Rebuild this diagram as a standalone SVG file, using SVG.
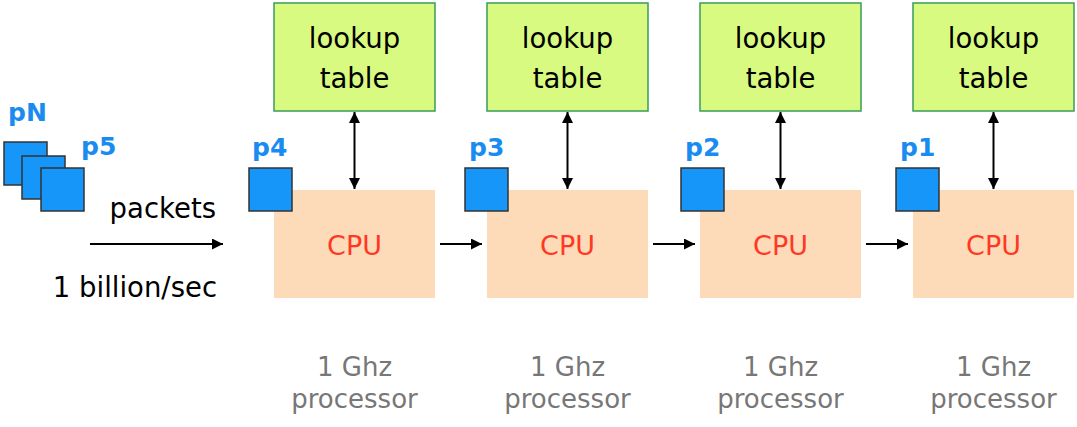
<svg xmlns="http://www.w3.org/2000/svg" width="1077" height="427" viewBox="0 0 1077 427">
<defs>
<marker id="ah" viewBox="0 0 10 10" refX="10" refY="5" markerWidth="6" markerHeight="5.5" markerUnits="strokeWidth" orient="auto-start-reverse">
<path d="M0,0 L10,5 L0,10 z" fill="#000"/>
</marker>
</defs>
<style>
text{font-family:"DejaVu Sans","Liberation Sans",sans-serif}
.lt{fill:#D8FA80;stroke:#3A9A5A;stroke-width:1.5}
.cpu{fill:#FDDBB9}
.pk{fill:#1796FA;stroke:#333;stroke-width:1.5}
.pl{fill:#1A8CF0;font-weight:bold;font-size:25px}
.blk{fill:#000;font-size:27.5px;text-anchor:middle}
.ct{fill:#FF3824;font-size:27px;text-anchor:middle}
.gt{fill:#777;font-size:26px;text-anchor:middle}
.cn{stroke:#000;stroke-width:2;fill:none}
</style>
<rect width="1077" height="427" fill="#fff"/>

<g id="connectors">
<line class="cn" x1="90" y1="244" x2="223" y2="244" marker-end="url(#ah)"/>
<line class="cn" x1="440" y1="244" x2="482" y2="244" marker-end="url(#ah)"/>
<line class="cn" x1="653" y1="244" x2="695" y2="244" marker-end="url(#ah)"/>
<line class="cn" x1="866" y1="244" x2="908" y2="244" marker-end="url(#ah)"/>
<line class="cn" x1="354.5" y1="112" x2="354.5" y2="189" marker-start="url(#ah)" marker-end="url(#ah)"/>
<line class="cn" x1="567.5" y1="112" x2="567.5" y2="189" marker-start="url(#ah)" marker-end="url(#ah)"/>
<line class="cn" x1="780.5" y1="112" x2="780.5" y2="189" marker-start="url(#ah)" marker-end="url(#ah)"/>
<line class="cn" x1="993.5" y1="112" x2="993.5" y2="189" marker-start="url(#ah)" marker-end="url(#ah)"/>
</g>

<g id="queue">
<rect class="pk" x="4" y="142" width="43" height="43"/>
<rect class="pk" x="22" y="156" width="43" height="43"/>
<rect class="pk" x="41" y="168" width="43" height="43"/>
<text class="pl" x="8" y="121">pN</text>
<text class="pl" x="81" y="155">p5</text>
<text class="blk" x="216" y="218" style="text-anchor:end">packets</text>
<text class="blk" x="217" y="297" style="text-anchor:end">1 billion/sec</text>
</g>

<g id="stage1">
<rect class="lt" x="274" y="3" width="161" height="108"/>
<text class="blk" x="354.5" y="48">lookup</text>
<text class="blk" x="354.5" y="88">table</text>
<rect class="cpu" x="274" y="190" width="161" height="108"/>
<text class="ct" x="354.5" y="255">CPU</text>
<rect class="pk" x="249" y="168" width="43" height="43"/>
<text class="pl" x="252" y="156">p4</text>
<text class="gt" x="354.5" y="376">1 Ghz</text>
<text class="gt" x="354.5" y="408">processor</text>
</g>

<g id="stage2">
<rect class="lt" x="487" y="3" width="161" height="108"/>
<text class="blk" x="567.5" y="48">lookup</text>
<text class="blk" x="567.5" y="88">table</text>
<rect class="cpu" x="487" y="190" width="161" height="108"/>
<text class="ct" x="567.5" y="255">CPU</text>
<rect class="pk" x="465" y="168" width="43" height="43"/>
<text class="pl" x="469" y="156">p3</text>
<text class="gt" x="567.5" y="376">1 Ghz</text>
<text class="gt" x="567.5" y="408">processor</text>
</g>

<g id="stage3">
<rect class="lt" x="700" y="3" width="161" height="108"/>
<text class="blk" x="780.5" y="48">lookup</text>
<text class="blk" x="780.5" y="88">table</text>
<rect class="cpu" x="700" y="190" width="161" height="108"/>
<text class="ct" x="780.5" y="255">CPU</text>
<rect class="pk" x="681" y="168" width="43" height="43"/>
<text class="pl" x="685" y="156">p2</text>
<text class="gt" x="780.5" y="376">1 Ghz</text>
<text class="gt" x="780.5" y="408">processor</text>
</g>

<g id="stage4">
<rect class="lt" x="913" y="3" width="161" height="108"/>
<text class="blk" x="993.5" y="48">lookup</text>
<text class="blk" x="993.5" y="88">table</text>
<rect class="cpu" x="913" y="190" width="161" height="108"/>
<text class="ct" x="993.5" y="255">CPU</text>
<rect class="pk" x="896" y="168" width="43" height="43"/>
<text class="pl" x="900" y="156">p1</text>
<text class="gt" x="993.5" y="376">1 Ghz</text>
<text class="gt" x="993.5" y="408">processor</text>
</g>
</svg>
